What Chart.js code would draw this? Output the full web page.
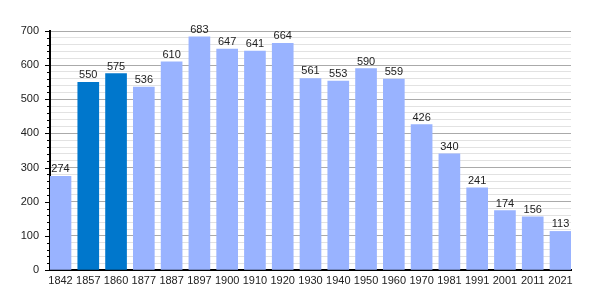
<!DOCTYPE html>
<html><head><meta charset="utf-8">
<script src="https://cdn.jsdelivr.net/npm/chart.js@4/dist/chart.umd.min.js"></script>
<style>html,body{margin:0;padding:0;background:#fff}#wrap{width:600px;height:300px}</style>
</head><body><div id="wrap"><canvas id="c" width="600" height="300"></canvas></div>
<script>
const years = ["1842","1857","1860","1877","1887","1897","1900","1910","1920","1930","1940","1950","1960","1970","1981","1991","2001","2011","2021"];
const population = [274,550,575,536,610,683,647,641,664,561,553,590,559,426,340,241,174,156,113];
const highlighted = ["1857","1860"];
const yTicks = [0,100,200,300,400,500,600,700];

const FONT = "Liberation Sans, Arial, sans-serif";
const labelPlugin = {
  id: 'vals',
  afterDatasetsDraw(chart) {
    const ctx = chart.ctx;
    const meta = chart.getDatasetMeta(0);
    ctx.save();
    ctx.font = "11px " + FONT;
    ctx.fillStyle = "#222";
    ctx.textAlign = "center";
    ctx.textBaseline = "alphabetic";
    meta.data.forEach((bar, i) => {
      ctx.fillText(String(population[i]), bar.x, bar.y - 4);
    });
    ctx.restore();
  }
};
const tickPlugin = {
  id: 'yticks',
  afterDraw(chart) {
    const ctx = chart.ctx;
    const y = chart.scales.y;
    const x0 = chart.chartArea.left;
    ctx.save();
    ctx.strokeStyle = "#000";
    ctx.lineWidth = 1;
    for (let v = 0; v <= 700; v += 20) {
      const py = Math.round(y.getPixelForValue(v)) + 0.5;
      const len = (v % 100 === 0) ? 5 : 3;
      ctx.beginPath();
      ctx.moveTo(x0 - len, py);
      ctx.lineTo(x0, py);
      ctx.stroke();
    }
    ctx.restore();
  }
};

new Chart(document.getElementById('c'), {
  type: 'bar',
  data: {
    datasets: [{
      data: population.map((v, i) => ({x: i, y: v})),
      backgroundColor: years.map(y => highlighted.includes(y) ? "#0077cc" : "#99b3ff"),
      barThickness: 21,
      borderWidth: 0
    }]
  },
  options: {
    responsive: false,
    animation: false,
    devicePixelRatio: 1,
    layout: { padding: { top: 31, right: 29, left: 0, bottom: 0 } },
    plugins: { legend: { display: false }, tooltip: { enabled: false } },
    scales: {
      x: {
        type: 'linear',
        offset: false,
        min: -0.378,
        max: 18.378,
        afterBuildTicks(scale) { scale.ticks = years.map((_, i) => ({value: i})); },
        afterFit(scale) { scale.height = 30; },
        ticks: {
          autoSkip: false,
          maxRotation: 0,
          font: { family: FONT, size: 11 },
          color: "#222",
          padding: 4,
          callback: (v) => years[v]
        },
        grid: { display: false, drawTicks: false, offset: false },
        border: { display: true, color: "#000", width: 2 }
      },
      y: {
        min: 0,
        max: 700,
        afterBuildTicks(scale) {
          const t = [];
          for (let v = 0; v <= 700; v += 20) t.push({value: v});
          scale.ticks = t;
        },
        afterFit(scale) { scale.width = 50; },
        ticks: {
          autoSkip: false,
          font: { family: FONT, size: 11 },
          color: "#222",
          padding: 11,
          callback: (v) => yTicks.includes(v) ? String(v) : ""
        },
        grid: {
          drawTicks: false,
          color: (c) => (c.tick && c.tick.value % 100 === 0) ? "#aaaaaa" : "#e2e2e2",
          lineWidth: 1
        },
        border: { display: true, color: "#000", width: 2 }
      }
    }
  },
  plugins: [labelPlugin, tickPlugin]
});
</script></body></html>
